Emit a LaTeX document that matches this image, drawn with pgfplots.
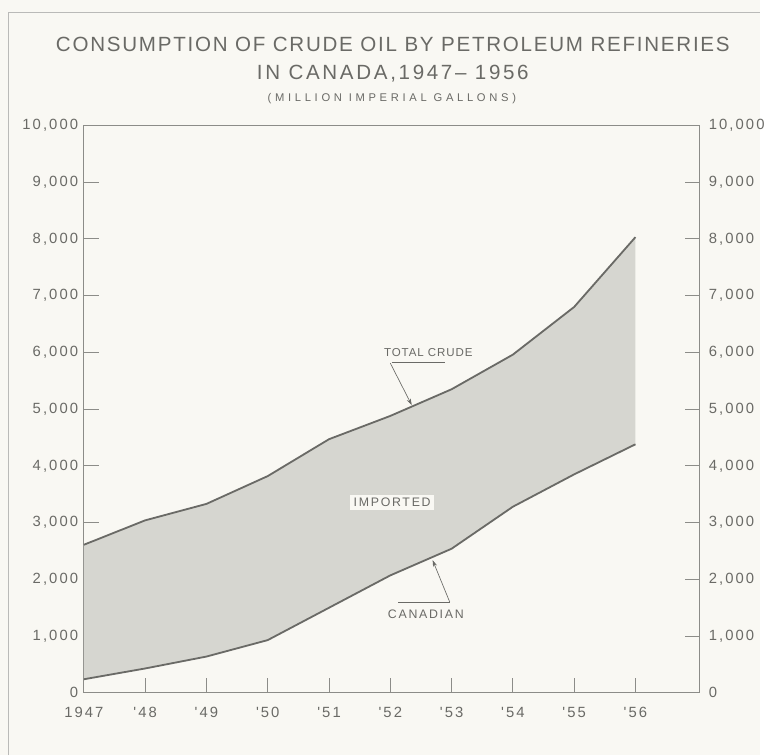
\documentclass[border=0pt]{standalone}
\usepackage{pgfplots}
\pgfplotsset{compat=1.18}
\usetikzlibrary{arrows.meta}
\usepackage{fontspec}
\setmainfont{Liberation Sans}
\newfontfamily\titlefont[LetterSpace=8.5]{Liberation Sans}
\newfontfamily\titlefontb[LetterSpace=13]{Liberation Sans}
\newfontfamily\subfont[LetterSpace=33]{Liberation Sans}
\newfontfamily\tickfont[LetterSpace=14]{Liberation Sans}
\newfontfamily\notefont[LetterSpace=14]{Liberation Sans}
\newfontfamily\notefontb[LetterSpace=8]{Liberation Sans}
\definecolor{bg}{HTML}{F9F8F3}
\definecolor{ink}{HTML}{6A6A66}
\definecolor{fillc}{HTML}{D6D6D0}
\definecolor{axc}{HTML}{8C8C88}

\pgfplotstableread{
year total canadian
1947 2610 240
1948 3040 430
1949 3330 640
1950 3820 930
1951 4470 1500
1952 4880 2070
1953 5350 2540
1954 5960 3280
1955 6800 3850
1956 8030 4380
}\crude

\begin{document}
\begin{tikzpicture}
\begin{scope}[x=0.6pt,y=0.6pt]
\useasboundingbox (0,0) rectangle (770,765);
\fill[bg] (0,0) rectangle (770,765);
\draw[axc!60, line width=0.6pt] (9,0) -- (9,752) -- (770,752);
\node[ink, font=\titlefont\fontsize{12.5}{14}\selectfont] at (398,720) {CONSUMPTION OF CRUDE OIL BY PETROLEUM REFINERIES};
\node[ink, font=\titlefontb\fontsize{12.5}{14}\selectfont] at (398,690) {IN CANADA,1947– 1956};
\node[ink, font=\subfont\fontsize{6.8}{8}\selectfont] at (397,665) {(MILLION IMPERIAL GALLONS)};
\end{scope}

\begin{axis}[
  at={(51pt,37.8pt)}, anchor=south west, scale only axis,
  width=374.4pt, height=345pt,
  xmin=1947, xmax=1957.05, ymin=0, ymax=10000,
  scaled y ticks=false, scaled x ticks=false,
  axis line style={axc, line width=0.6pt},
  tick align=inside, major tick length=9pt,
  tick style={axc, line width=0.6pt},
  xtick pos=bottom,
  xtick={1947,1948,1949,1950,1951,1952,1953,1954,1955,1956},
  xticklabels={1947,{'48},{'49},{'50},{'51},{'52},{'53},{'54},{'55},{'56}},
  ytick={0,1000,2000,3000,4000,5000,6000,7000,8000,9000,10000},
  yticklabels={0,{1,000},{2,000},{3,000},{4,000},{5,000},{6,000},{7,000},{8,000},{9,000},{10,000}},
  ticklabel style={ink, font=\tickfont\fontsize{9}{10}\selectfont},
  xticklabel style={yshift=-5pt},
  clip=false,
]
\addplot[fill=fillc, draw=none] coordinates {
 (1947,2610) (1948,3040) (1949,3330) (1950,3820) (1951,4470)
 (1952,4880) (1953,5350) (1954,5960) (1955,6800) (1956,8030)
 (1956,4380) (1955,3850) (1954,3280) (1953,2540) (1952,2070)
 (1951,1500) (1950,930) (1949,640) (1948,430) (1947,240)
};
\addplot[ink, line width=1.1pt] table[x=year, y=total] {\crude};
\addplot[ink, line width=1.1pt] table[x=year, y=canadian] {\crude};

\node[ink, font=\notefontb\fontsize{7}{8}\selectfont] at (axis cs:1952.62,6000) {TOTAL CRUDE};
\draw[ink, line width=0.5pt] (axis cs:1952.02,5826) -- (axis cs:1952.9,5826);
\draw[ink, line width=0.4pt, -{Stealth[length=4pt,width=2.5pt]}] (axis cs:1952.0,5810) -- (axis cs:1952.35,5070);
\node[ink, fill=bg, inner sep=2pt, font=\notefont\fontsize{7.5}{8}\selectfont] at (axis cs:1952.03,3357) {IMPORTED};
\node[ink, font=\notefont\fontsize{7.5}{8}\selectfont] at (axis cs:1952.58,1391) {CANADIAN};
\draw[ink, line width=0.5pt] (axis cs:1952.13,1600) -- (axis cs:1952.97,1600);
\draw[ink, line width=0.4pt, -{Stealth[length=4pt,width=2.5pt]}] (axis cs:1952.97,1600) -- (axis cs:1952.69,2340);
\end{axis}

\begin{axis}[
  at={(51pt,37.8pt)}, anchor=south west, scale only axis,
  width=374.4pt, height=345pt,
  xmin=1947, xmax=1957.05, ymin=0, ymax=10000,
  scaled y ticks=false,
  axis line style={draw=none}, tick style={draw=none},
  xtick=\empty,
  yticklabel pos=right,
  ytick={0,1000,2000,3000,4000,5000,6000,7000,8000,9000,10000},
  yticklabels={0,{1,000},{2,000},{3,000},{4,000},{5,000},{6,000},{7,000},{8,000},{9,000},{10,000}},
  ticklabel style={ink, font=\tickfont\fontsize{9}{10}\selectfont},
  yticklabel style={xshift=2pt},
]
\addplot[draw=none] coordinates {(1947,0) (1956,10000)};
\end{axis}
\end{tikzpicture}
\end{document}
